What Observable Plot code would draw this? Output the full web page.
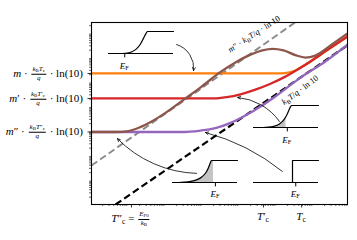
<!DOCTYPE html>
<html><head><meta charset="utf-8">
<script src="https://cdn.jsdelivr.net/npm/d3@7"></script>
<script src="https://cdn.jsdelivr.net/npm/@observablehq/plot@0.6"></script>
<style>
body{margin:0;background:#fff;}
#wrap{position:relative;width:357px;height:240px;overflow:hidden;font-family:"Liberation Serif","DejaVu Serif",serif;color:#000;}
#wrap > svg{position:absolute;left:0;top:0;}
.inset{position:absolute;}
.inset svg{position:absolute;left:0;top:0;overflow:visible;}
.lab{position:absolute;white-space:nowrap;line-height:1;}
.frac{display:inline-block;vertical-align:middle;text-align:center;font-size:0.64em;line-height:1.1;margin:0 1px;}
.frac > span{display:block;}
.frac > .n{border-bottom:0.7px solid #000;padding:0 1px;}
sub{font-size:0.7em;vertical-align:-0.3em;line-height:0;}
</style></head><body><div id="wrap"></div>
<script>
const p10 = v => Math.pow(10, v);

// ---- main curves (log10 T, log10 S) ----
const orangeLogT = [0, 5.11, 5.35, 5.51, 5.68, 5.92, 6.32, 6.92];
const orangeLogS = [5.35, 5.35, 5.39, 5.47, 5.61, 5.84, 6.25, 6.86];
const redLogT = [0, 3.30, 3.65, 4.03, 4.43, 4.84, 5.24, 5.57, 5.92, 6.32, 6.92];
const redLogS = [4.33, 4.33, 4.38, 4.50, 4.69, 4.93, 5.22, 5.51, 5.84, 6.25, 6.86];
const purpleLogT = [0, 2.41, 2.95, 3.35, 3.76, 4.16, 4.57, 4.97, 5.65, 6.32, 6.92];
const purpleLogS = [2.96, 2.96, 3.02, 3.12, 3.33, 3.63, 4.00, 4.41, 5.18, 5.84, 6.53];
const brownLogT = [0, 0.65, 1.0, 1.32, 1.65, 2.0, 2.54, 2.95, 3.43, 3.89, 4.30, 4.62, 4.89, 5.19, 5.51, 5.78, 6.05, 6.46, 6.92];
const brownLogS = [2.96, 2.96, 3.0, 3.16, 3.41, 3.74, 4.33, 4.78, 5.35, 5.80, 6.12, 6.29, 6.35, 6.29, 6.10, 6.0, 6.08, 6.49, 6.98];
const grayLogT = [0, 5.5];
const grayLogS = [1.59, 7.43];
const blackLogT = [0.65, 6.92];
const blackLogS = [0, 6.5];

// ---- axes ----
const xDomainLog = [0, 6.92];
const yDomainLog = [0, 7.43];
const xTickLogT = [1.08, 4.65, 5.68];
const xTickLabels = [
  '<i>T</i>″<sub>c</sub> = <span class="frac"><span class="n"><i>E</i><sub>F0</sub></span><span><i>k</i><sub>B</sub></span></span>',
  '<i>T</i>′<sub>c</sub>',
  '<i>T</i><sub>c</sub>'
];
const yTickLogS = [5.35, 4.33, 2.96];
const yTickLabels = [
  '<i>m</i> · <span class="frac"><span class="n"><i>k</i><sub>B</sub><i>T</i><sub>c</sub></span><span><i>q</i></span></span> · ln(10)',
  '<i>m</i>′ · <span class="frac"><span class="n"><i>k</i><sub>B</sub><i>T</i>′<sub>c</sub></span><span><i>q</i></span></span> · ln(10)',
  '<i>m</i>″ · <span class="frac"><span class="n"><i>k</i><sub>B</sub><i>T</i>″<sub>c</sub></span><span><i>q</i></span></span> · ln(10)'
];

// ---- rotated line labels ----
const lineLabelLogT = [4.41, 5.65];
const lineLabelLogS = [6.94, 4.635];
const lineLabelAngle = [-33, -37];
const lineLabelText = [
  '<i>m</i>″ · <i>k</i><sub>B</sub><i>T</i>/<i>q</i> · ln 10',
  '<i>k</i><sub>B</sub><i>T</i>/<i>q</i> · ln 10'
];

// ---- arrows ----
const arrowFromLogT = [2.30, 5.08, 5.16, 2.84];
const arrowFromLogS = [6.53, 3.39, 1.35, 1.27];
const arrowToLogT = [2.76, 3.95, 3.08, 0.70];
const arrowToLogS = [5.47, 4.37, 2.94, 2.69];
const arrowBend = [40, -25, -12, 22];

// ---- insets ----
const insetLogT = [0.46, 4.38, 2.19, 4.38];
const insetLogS = [6.16, 3.14, 0.90, 0.90];
const insetU = [
  [0, 0.22, 0.29, 0.36, 0.43, 0.49, 0.54, 0.58, 0.60, 1],
  [0, 0.15, 0.25, 0.33, 0.40, 0.46, 0.50, 0.54, 0.57, 0.59, 1],
  [0, 0.10, 0.20, 0.30, 0.38, 0.45, 0.51, 0.55, 0.58, 0.60, 0.63, 1],
  [0, 0.60, 0.60, 1]
];
const insetV = [
  [0, 0, 0.02, 0.08, 0.21, 0.42, 0.70, 0.93, 1, 1],
  [0, 0, 0.02, 0.07, 0.16, 0.32, 0.50, 0.75, 0.95, 1, 1],
  [0, 0, 0.02, 0.06, 0.13, 0.25, 0.43, 0.65, 0.88, 1, 1, 1],
  [0, 0, 1, 1]
];
const insetEF = [0.25, 0.52, 0.66, 0.65];
const insetShadeTo = [null, 0.50, 0.63, null];

const toPts = (lt, ls) => lt.map((t, i) => ({T: p10(t), S: p10(ls[i])}));
const lineMark = (lt, ls, opts) => Plot.line(toPts(lt, ls), {x: "T", y: "S", clip: true, strokeLinecap: "butt", curve: "monotone-x", ...opts});

const minorX = d3.range(0, 7).flatMap(d => d3.range(2, 10).map(k => k * p10(d))).filter(v => v <= p10(xDomainLog[1]));
const minorY = d3.range(0, 8).flatMap(d => d3.range(2, 10).map(k => k * p10(d))).filter(v => v <= p10(yDomainLog[1]));

const arrows = arrowBend.map((b, i) => Plot.arrow([{
  x1: p10(arrowFromLogT[i]), y1: p10(arrowFromLogS[i]),
  x2: p10(arrowToLogT[i]), y2: p10(arrowToLogS[i])
}], {x1: "x1", y1: "y1", x2: "x2", y2: "y2", bend: b, stroke: "#000", strokeWidth: 0.8, headLength: 6, headAngle: 50}));

const chart = Plot.plot({
  width: 357, height: 240,
  marginLeft: 91, marginRight: 10, marginTop: 22, marginBottom: 36,
  x: {type: "log", domain: xDomainLog.map(p10)},
  y: {type: "log", domain: yDomainLog.map(p10)},
  style: {background: "transparent", overflow: "visible"},
  marks: [
    Plot.axisX({ticks: minorX, tickSize: 2, strokeWidth: 0.6, tickFormat: () => "", label: null}),
    Plot.axisX({ticks: xTickLogT.map(p10), tickSize: 3.5, strokeWidth: 0.8, tickFormat: () => "", label: null}),
    Plot.axisY({ticks: minorY, tickSize: 2, strokeWidth: 0.6, tickFormat: () => "", label: null}),
    Plot.axisY({ticks: yTickLogS.map(p10), tickSize: 3.5, strokeWidth: 0.8, tickFormat: () => "", label: null}),
    lineMark(grayLogT, grayLogS, {stroke: "#8c8c8c", strokeWidth: 2, strokeDasharray: "7,3.5", curve: "linear"}),
    lineMark(blackLogT, blackLogS, {stroke: "#000", strokeWidth: 2.2, strokeDasharray: "7,3.5", curve: "linear"}),
    lineMark(purpleLogT, purpleLogS, {stroke: "#9467bd", strokeWidth: 2.3}),
    lineMark(orangeLogT, orangeLogS, {stroke: "#ff7f0e", strokeWidth: 2.3}),
    lineMark(redLogT, redLogS, {stroke: "#d62728", strokeWidth: 2.3}),
    lineMark(brownLogT, brownLogS, {stroke: "#8c564b", strokeWidth: 2.3}),
    ...arrows,
    Plot.frame({stroke: "#000", strokeWidth: 1.1})
  ]
});

const wrap = document.getElementById("wrap");
wrap.appendChild(chart);
const sx = chart.scale("x"), sy = chart.scale("y");
const X = lt => sx.apply(p10(lt)), Y = ls => sy.apply(p10(ls));

function addLabel(parent, html, left, top, transform, size) {
  const d = document.createElement("div");
  d.className = "lab";
  d.innerHTML = html;
  d.style.left = left + "px";
  d.style.top = top + "px";
  d.style.transform = transform;
  d.style.fontSize = size + "px";
  parent.appendChild(d);
  return d;
}

// insets
const IW = 65, IH = 22, IMT = 2, IMB = 20;
insetLogT.forEach((lt, i) => {
  const pts = insetU[i].map((u, j) => ({u, v: insetV[i][j]}));
  const dup = insetU[i].some((u, j) => j > 0 && u === insetU[i][j - 1]);
  const curve = dup ? "linear" : "monotone-x";
  const marks = [];
  if (insetShadeTo[i] != null) {
    marks.push(Plot.areaY(pts.filter(d => d.u <= insetShadeTo[i] + 1e-9), {x: "u", y: "v", curve, fill: "#c4c4c4"}));
  }
  marks.push(
    Plot.ruleY([0], {stroke: "#000", strokeWidth: 1.1}),
    Plot.line(pts, {x: "u", y: "v", curve, stroke: "#000", strokeWidth: 1.2}),
    Plot.ruleX([insetEF[i]], {y1: 0, y2: -0.2, stroke: "#000", strokeWidth: 1})
  );
  const p = Plot.plot({
    width: IW, height: IH + IMT + IMB,
    marginLeft: 0, marginRight: 0, marginTop: IMT, marginBottom: IMB,
    x: {domain: [0, 1], axis: null}, y: {domain: [0, 1], axis: null},
    style: {background: "transparent", overflow: "visible"},
    marks
  });
  const box = document.createElement("div");
  box.className = "inset";
  box.style.left = X(lt) + "px";
  box.style.top = (Y(insetLogS[i]) - IH - IMT) + "px";
  box.style.width = IW + "px";
  box.style.height = (IH + IMT + IMB) + "px";
  box.appendChild(p);
  wrap.appendChild(box);
  addLabel(box, '<i>E</i><sub>F</sub>', p.scale("x").apply(insetEF[i]), IMT + IH + 12.5, "translate(-50%,-50%)", 9);
});

// tick labels
yTickLogS.forEach((ls, i) => addLabel(wrap, yTickLabels[i], X(0) - 8, Y(ls) + 1, "translate(-100%,-50%)", 11));
xTickLogT.forEach((lt, i) => addLabel(wrap, xTickLabels[i], X(lt), Y(0) + 7, "translate(-50%,0)", 11));

// rotated line labels
lineLabelLogT.forEach((lt, i) => addLabel(wrap, lineLabelText[i], X(lt), Y(lineLabelLogS[i]), `translate(-50%,-50%) rotate(${lineLabelAngle[i]}deg)`, 8.5));
</script></body></html>
